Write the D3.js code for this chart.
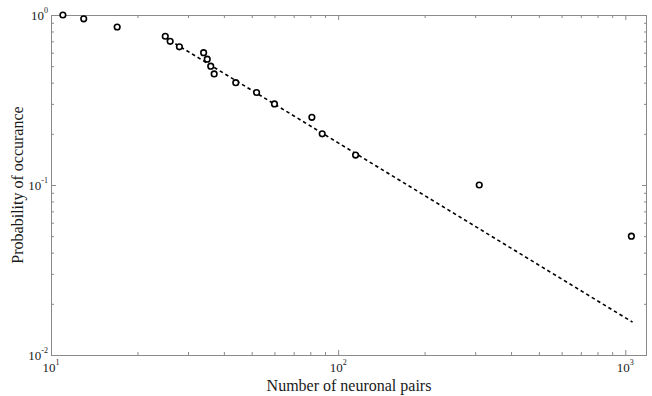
<!DOCTYPE html>
<html>
<head>
<meta charset="utf-8">
<script src="https://cdn.jsdelivr.net/npm/d3@7"></script>
<style>
  html, body { margin: 0; padding: 0; background: #fff; }
  svg { display: block; }
  svg text { font-family: "Liberation Serif", "Times New Roman", Times, serif; }
</style>
</head>
<body>
<svg id="chart" width="652" height="396"></svg>
<script>
// Observed pair counts and their probability of occurrence
const pairCounts = [11, 13, 17, 25, 26, 28, 34, 35, 36, 37, 44, 52, 60, 81, 88, 115, 310, 1050];
const probabilities = [1.0, 0.95, 0.85, 0.75, 0.70, 0.65, 0.60, 0.55, 0.50, 0.45, 0.40, 0.35, 0.30, 0.25, 0.20, 0.15, 0.10, 0.05];

// Power-law fit (dashed), sampled at a few pair counts
const fitCounts = [24.8, 100, 1060];
const fitProbs = [0.742, 0.177, 0.0156];

// Axis ticks
const xMajor = [10, 100, 1000];
const xMajorExp = ["1", "2", "3"];
const xMinor = [20, 30, 40, 50, 60, 70, 80, 90, 200, 300, 400, 500, 600, 700, 800, 900];
const yMajor = [0.01, 0.1, 1];
const yMajorExp = ["-2", "-1", "0"];
const yMinor = [0.02, 0.03, 0.04, 0.05, 0.06, 0.07, 0.08, 0.09, 0.2, 0.3, 0.4, 0.5, 0.6, 0.7, 0.8, 0.9];

const xTitle = "Number of neuronal pairs";
const yTitle = "Probability of occurance";

(function () {
  const svg = d3.select("#chart");
  const pLeft = 51, pRight = 647, pTop = 15, pBottom = 355;
  const axisColor = "#8a8a8a";
  const labelColor = "#1a1a1a";
  const serif = "Liberation Serif";

  const x = d3.scaleLog().domain([10, 1190]).range([pLeft, pRight]);
  const y = d3.scaleLog().domain([0.01, 1]).range([pBottom, pTop]);

  // Tick marks on all four sides, pointing inward
  function styleAxis(g) {
    g.select(".domain").remove();
    g.selectAll(".tick line").attr("stroke", axisColor).attr("stroke-width", 1);
    g.selectAll(".tick text").remove();
  }
  const sides = [
    [d3.axisBottom, `translate(0,${pBottom})`, x, xMinor, xMajor],
    [d3.axisTop, `translate(0,${pTop})`, x, xMinor, xMajor],
    [d3.axisLeft, `translate(${pLeft},0)`, y, yMinor, yMajor],
    [d3.axisRight, `translate(${pRight},0)`, y, yMinor, yMajor]
  ];
  sides.forEach(([axisFn, tr, sc, minor, major]) => {
    svg.append("g").attr("transform", tr)
      .call(axisFn(sc).tickValues(minor).tickSize(-3).tickFormat(""))
      .call(styleAxis);
    svg.append("g").attr("transform", tr)
      .call(axisFn(sc).tickValues(major).tickSize(-5).tickFormat(""))
      .call(styleAxis);
  });

  // Frame
  svg.append("rect")
    .attr("x", pLeft + 0.5).attr("y", pTop + 0.5)
    .attr("width", pRight - pLeft - 1).attr("height", pBottom - pTop)
    .attr("fill", "none").attr("stroke", axisColor).attr("stroke-width", 1);

  // Tick labels as 10 with superscript exponents
  xMajor.forEach((v, i) => {
    const t = svg.append("text")
      .attr("x", x(v)).attr("y", 372)
      .attr("text-anchor", "middle")
      .attr("font-family", serif)
      .attr("fill", labelColor)
      .attr("font-size", 13);
    t.append("tspan").text("10");
    t.append("tspan").attr("dy", -7).attr("font-size", 8).text(xMajorExp[i]);
  });
  yMajor.forEach((v, i) => {
    const t = svg.append("text")
      .attr("x", pLeft - 3).attr("y", y(v) + 4.5)
      .attr("text-anchor", "end")
      .attr("font-family", serif)
      .attr("fill", labelColor)
      .attr("font-size", 13);
    t.append("tspan").text("10");
    t.append("tspan").attr("dy", -7).attr("font-size", 8).text(yMajorExp[i]);
  });

  // Axis titles
  svg.append("text")
    .attr("x", (pLeft + pRight) / 2).attr("y", 391)
    .attr("text-anchor", "middle")
    .attr("font-family", serif)
    .attr("font-size", 16).attr("fill", labelColor)
    .text(xTitle);
  svg.append("text")
    .attr("transform", `translate(23,${(pTop + pBottom) / 2}) rotate(-90)`)
    .attr("text-anchor", "middle")
    .attr("font-family", serif)
    .attr("font-size", 16).attr("fill", labelColor)
    .text(yTitle);

  // Fitted power law
  const fitData = fitCounts.map((c, i) => [c, fitProbs[i]]);
  svg.append("path")
    .datum(fitData)
    .attr("d", d3.line().x(d => x(d[0])).y(d => y(d[1])))
    .attr("fill", "none")
    .attr("stroke", "#000")
    .attr("stroke-width", 1.6)
    .attr("stroke-dasharray", "3.5,3");

  // Observed points
  const pts = pairCounts.map((c, i) => [c, probabilities[i]]);
  svg.append("g").selectAll("circle")
    .data(pts).join("circle")
    .attr("cx", d => x(d[0]))
    .attr("cy", d => y(d[1]))
    .attr("r", 2.8)
    .attr("fill", "#fff")
    .attr("stroke", "#000")
    .attr("stroke-width", 1.6);
})();
</script>
</body>
</html>
